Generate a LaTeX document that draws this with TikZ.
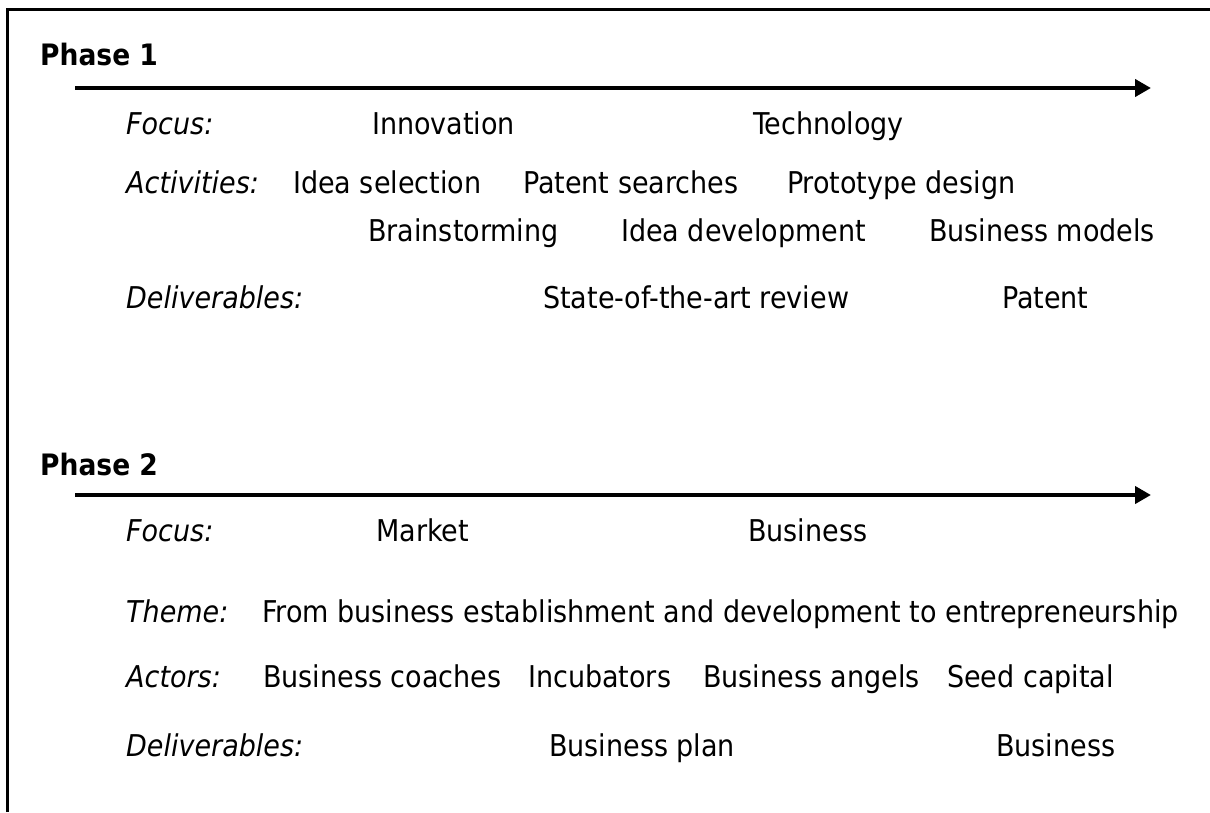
\documentclass[tikz,border=0pt]{standalone}
\usepackage{fontspec}
\setmainfont{DejaVu Sans Condensed}
\usetikzlibrary{arrows.meta}
\begin{document}
\begin{tikzpicture}[x=1pt,y=-1pt,
  txt/.style={anchor=base west, inner sep=0pt, font=\fontsize{30}{34}\selectfont},
  lbl/.style={anchor=base west, inner sep=0pt, font=\fontsize{30}{34}\selectfont\itshape},
  phase/.style={anchor=base west, inner sep=0pt, font=\fontsize{29.5}{34}\selectfont\bfseries},
  timeline/.style={line width=4pt, -{Triangle[length=16pt,width=17pt]}}]
\useasboundingbox (0,0) rectangle (1210,812);
% frame
\draw[line width=2.2pt] (7.5,812) -- (7.5,9.5) -- (1210,9.5);

% ---- Phase 1 ----
\node[phase] (p1) at (40,65) {Phase 1};
\coordinate (p1s) at (75,88);
\coordinate (p1e) at (1151,88);
\draw[timeline] (p1s) -- (p1e);

\node[lbl] (f1) at (126,134) {Focus:};
\node[txt] (innov) at (372,134) {Innovation};
\node[txt] (tech) at (753,134) {Technology};

\node[lbl] (act) at (126,193) {Activities:};
\node[txt] (ideasel) at (293,193) {Idea selection};
\node[txt] (patsearch) at (523,193) {Patent searches};
\node[txt] (proto) at (787,193) {Prototype design};

\node[txt] (brain) at (368,241) {Brainstorming};
\node[txt] (ideadev) at (621,241) {Idea development};
\node[txt] (bizmod) at (929,241) {Business models};

\node[lbl] (del1) at (126,308) {Deliverables:};
\node[txt] (sota) at (543,308) {State-of-the-art review};
\node[txt] (patent) at (1002,308) {Patent};

% ---- Phase 2 ----
\node[phase] (p2) at (40,475) {Phase 2};
\coordinate (p2s) at (75,495);
\coordinate (p2e) at (1151,495);
\draw[timeline] (p2s) -- (p2e);

\node[lbl] (f2) at (126,541) {Focus:};
\node[txt] (market) at (376,541) {Market};
\node[txt] (biz) at (748,541) {Business};

\node[lbl] (theme) at (126,622) {Theme:};
\node[txt] (themetxt) at (262,622) {From business establishment and development to entrepreneurship};

\node[lbl] (actors) at (126,687) {Actors:};
\node[txt] (coach) at (263,687) {Business coaches};
\node[txt] (incub) at (528,687) {Incubators};
\node[txt] (angels) at (703,687) {Business angels};
\node[txt] (seed) at (947,687) {Seed capital};

\node[lbl] (del2) at (126,756) {Deliverables:};
\node[txt] (bplan) at (549,756) {Business plan};
\node[txt] (bizend) at (996,756) {Business};
\end{tikzpicture}
\end{document}
